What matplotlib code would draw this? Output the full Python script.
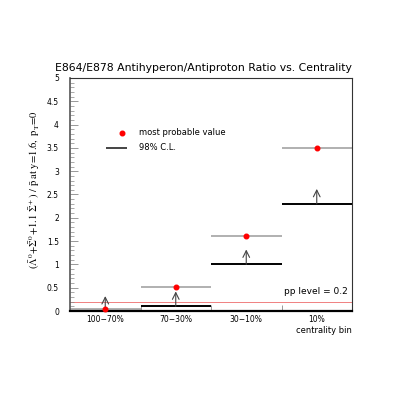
import matplotlib
matplotlib.use("Agg")
import matplotlib.pyplot as plt
from matplotlib.ticker import MultipleLocator, FixedLocator

# centrality bins and values
bins = ["100\u221270%", "70\u221230%", "30\u221210%", "10%"]
most_probable = [0.05, 0.51, 1.60, 3.50]
cl_limit = [0.0, 0.1, 1.0, 2.3]
pp_level = 0.2

plt.rcParams["mathtext.fontset"] = "stix"

fig = plt.figure(figsize=(4.15, 4.15), dpi=100)
ax = fig.add_axes([70 / 415, 1 - 311 / 415, 282 / 415, 233 / 415])

# pp reference line
ax.axhline(pp_level, color="#f08080", lw=0.7, zorder=1)

for i, (mpv, cl) in enumerate(zip(most_probable, cl_limit)):
    ax.hlines(mpv, i, i + 1, color="#aaaaaa", lw=1.3, zorder=2)
    ax.hlines(cl, i, i + 1, color="black", lw=1.4, zorder=3)
    ax.annotate("", xy=(i + 0.5, cl + 0.32), xytext=(i + 0.5, cl),
                arrowprops=dict(arrowstyle="->", color="#444444", lw=0.8,
                                mutation_scale=12, shrinkA=0, shrinkB=0),
                zorder=4)
    ax.plot(i + 0.5, mpv, "o", color="red", ms=3.3, zorder=5, clip_on=False)

# legend drawn by hand, ROOT style
ax.plot(0.74, 3.82, "o", color="red", ms=3.3)
ax.hlines(3.5, 0.51, 0.81, color="#444444", lw=1.4)
ax.text(0.98, 3.82, "most probable value", fontsize=6, va="center")
ax.text(0.98, 3.5, "98% C.L.", fontsize=6, va="center")

ax.text(3.94, 0.32, "pp level = 0.2", fontsize=6.5, ha="right", va="bottom")

ax.set_xlim(0, 4)
ax.set_ylim(0, 5)
ax.xaxis.set_major_locator(FixedLocator([1, 2, 3]))
ax.xaxis.set_minor_locator(FixedLocator([0.5, 1.5, 2.5, 3.5]))
ax.set_xticklabels([])
ax.set_xticklabels(bins, minor=True)
ax.tick_params(axis="x", which="major", direction="in", length=4, width=0.6, color="#888888")
ax.tick_params(axis="x", which="minor", length=0, labelsize=5.5, pad=3)

ax.yaxis.set_minor_locator(MultipleLocator(0.1))
ax.set_yticks([0, 0.5, 1, 1.5, 2, 2.5, 3, 3.5, 4, 4.5, 5])
ax.set_yticklabels(["0", "0.5", "1", "1.5", "2", "2.5", "3", "3.5", "4", "4.5", "5"])
ax.tick_params(axis="y", which="major", direction="in", length=6, width=0.6,
               color="#888888", labelsize=5.5, pad=8)
ax.tick_params(axis="y", which="minor", direction="in", length=3, width=0.5, color="#888888")

for side in ["top", "right"]:
    ax.spines[side].set_linewidth(0.8)
    ax.spines[side].set_color("#333333")
ax.spines["left"].set_linewidth(1.2)
ax.spines["left"].set_color("#555555")
ax.spines["bottom"].set_linewidth(1.6)

fig.text(35 / 415, 1 - 190 / 415,
         r"$(\bar{\Lambda}^0\!+\!\bar{\Sigma}^0\!+\!1.1\ \bar{\Sigma}^+)\ /\ \bar{\rm p}\ {\rm at\ y\!=\!1.6,\ p_T\!=\!0}$",
         fontsize=7.6, rotation=90, ha="center", va="center")

fig.text(352 / 415, 1 - 330 / 415, "centrality bin", fontsize=6, ha="right", va="center")
fig.text(203 / 415, 1 - 68 / 415, "E864/E878 Antihyperon/Antiproton Ratio vs. Centrality",
         fontsize=7.8, ha="center", va="center")

fig.savefig("out.png", dpi=100)
